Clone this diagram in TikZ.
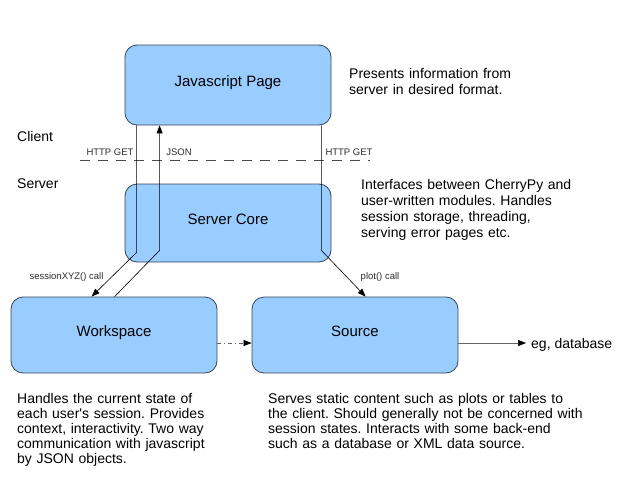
\documentclass[tikz,border=0pt]{standalone}
\usepackage{fontspec}
\setmainfont{Liberation Sans}[Ligatures=TeXOff]
\usetikzlibrary{arrows.meta,calc}
\definecolor{boxfill}{RGB}{153,204,255}
\definecolor{boxline}{RGB}{55,70,90}
\definecolor{lbl}{RGB}{45,45,45}
\frenchspacing
\begin{document}
\begin{tikzpicture}[x=1pt,y=-1pt,
  box/.style={draw=boxline, fill=boxfill, rounded corners=12pt, minimum width=206pt, inner sep=0pt,
    font=\fontsize{15}{16}\selectfont, text height=10pt, text depth=8pt, line width=0.8pt},
  conn/.style={draw=black, line width=0.6pt},
  tip/.style={-{Triangle[length=8pt,width=6pt]}},
  small/.style={font=\fontsize{9.5}{11}\selectfont, text=lbl, inner sep=0pt},
  side/.style={font=\fontsize{14}{16}\selectfont, inner sep=0pt, anchor=base west},
  desc/.style={font=\fontsize{14}{15}\selectfont, align=left, text width=330pt, inner sep=0pt, anchor=base west}]
\useasboundingbox[fill=white] (0,0) rectangle (640,480);

% boxes
\node[box, minimum height=80pt] (js) at (228,85) {Javascript Page};
\node[box, minimum height=78pt] (core) at (228,223) {Server Core};
\node[box, minimum height=76pt] (ws) at (114,335) {Workspace};
\node[box, minimum height=76pt] (src) at (355,335) {Source};

% client / server boundary
\coordinate (dl) at (80,160);
\coordinate (dr) at (370,160);
\draw[draw=black!70, line width=0.7pt, dash pattern=on 10pt off 8pt] (dl) -- (dr);
\node[side] (client) at (17,141) {Client};
\node[side] (server) at (17,188) {Server};
\node[small] (hg1) at (110,152) {HTTP GET};
\node[small] (json) at (179,152) {JSON};
\node[small] (hg2) at (349,152) {HTTP GET};

% connectors
\draw[conn,tip] ($(js.south west)+(12,0)$) -- ($(core.south west)+(12,-10)$) -- ($(ws.north west)+(81,0)$);
\draw[conn,tip] ($(ws.north west)+(104,0)$) -- ($(core.south west)+(35,-12)$) -- ($(js.south west)+(35,0)$);
\draw[conn,tip] ($(js.south east)+(-10,0)$) -- ($(core.south east)+(-10,-12)$) -- ($(src.north west)+(114,0)$);
\node[small] (sxyz) at (66.5,277) {sessionXYZ() call};
\node[small] (plot) at (380,277) {plot() call};

\draw[draw=black!60, line width=0.7pt, dash pattern=on 4pt off 3pt on 1pt off 3pt, -{Triangle[length=8pt,width=6pt,black]}]
  ($(ws.east)+(0,8)$) -- ($(src.west)+(0,8)$);

\node[side] (eg) at (531,348) {eg, database};
\draw[draw=black!60, line width=0.7pt, -{Triangle[length=8pt,width=6pt,black]}]
  ($(src.east)+(0,8)$) -- ($(eg.west |- src.east)+(-5,8)$);

% descriptions
\node[desc, font=\fontsize{14}{16.5}\selectfont] (d1) at (349,78) {Presents information from\\server in desired format.};
\node[desc, font=\fontsize{14}{16}\selectfont] (d2) at (361,189) {Interfaces between CherryPy and\\user-written modules. Handles\\session storage, threading,\\serving error pages etc.};
\node[desc] (d3) at (17,403) {Handles the current state of\\each user's session. Provides\\context, interactivity. Two way\\communication with javascript\\by JSON objects.};
\node[desc] (d4) at (268,403) {Serves static content such as plots or tables to\\the client. Should generally not be concerned with\\session states. Interacts with some back-end\\such as a database or XML data source.};
\end{tikzpicture}
\end{document}
